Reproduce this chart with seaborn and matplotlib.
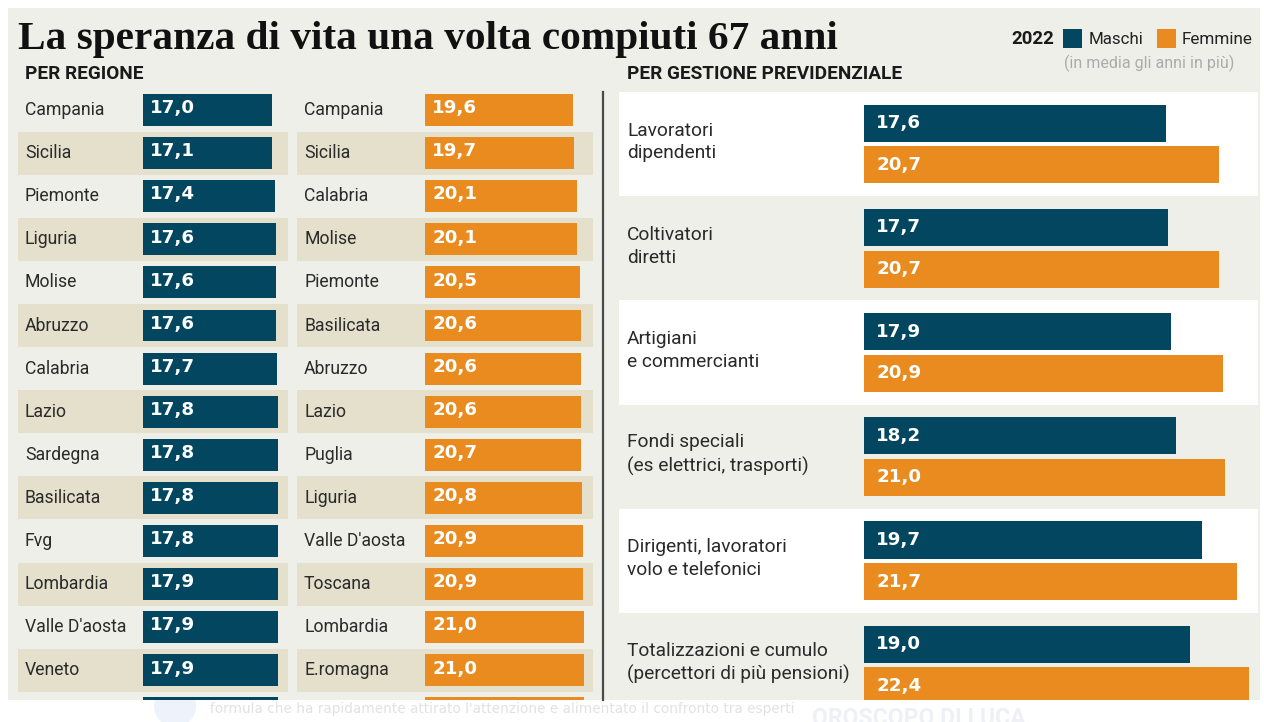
import matplotlib
matplotlib.use('Agg')
import matplotlib.pyplot as plt
from matplotlib.patches import Rectangle, Circle
from matplotlib.lines import Line2D
import matplotlib.transforms as mtransforms
import seaborn as sns
import pandas as pd

# ---------------- data ----------------
regioni_m = ["Campania", "Sicilia", "Piemonte", "Liguria", "Molise", "Abruzzo", "Calabria",
             "Lazio", "Sardegna", "Basilicata", "Fvg", "Lombardia", "Valle D'aosta", "Veneto", ""]
anni_m = [17.0, 17.1, 17.4, 17.6, 17.6, 17.6, 17.7, 17.8, 17.8, 17.8, 17.8, 17.9, 17.9, 17.9, 17.9]

regioni_f = ["Campania", "Sicilia", "Calabria", "Molise", "Piemonte", "Basilicata", "Abruzzo",
             "Lazio", "Puglia", "Liguria", "Valle D'aosta", "Toscana", "Lombardia", "E.romagna", ""]
anni_f = [19.6, 19.7, 20.1, 20.1, 20.5, 20.6, 20.6, 20.6, 20.7, 20.8, 20.9, 20.9, 21.0, 21.0, 21.0]

gestioni = ["Lavoratori\ndipendenti", "Coltivatori\ndiretti", "Artigiani\ne commercianti",
            "Fondi speciali\n(es elettrici, trasporti)", "Dirigenti, lavoratori\nvolo e telefonici",
            "Totalizzazioni e cumulo\n(percettori di più pensioni)"]
gest_m = [17.6, 17.7, 17.9, 18.2, 19.7, 19.0]
gest_f = [20.7, 20.7, 20.9, 21.0, 21.7, 22.4]

sessi = ["Maschi", "Femmine"]

# ---------------- style ----------------
DARK = '#02475f'
ORANGE = '#e98b1f'
PANEL = '#efefe9'
STRIPE = '#e4e0cc'
TEXT = '#2a2a2a'
SANS = 'Roboto'
VALFONT = 'DejaVu Sans'

W, H = 1264, 722
fig = plt.figure(figsize=(W / 100, H / 100), dpi=100, facecolor='white')
renderer = fig.canvas.get_renderer()


def fit(t, width):
    bb = t.get_window_extent(renderer)
    t.set_fontsize(t.get_fontsize() * width / bb.width)
    return t.get_fontsize()


def size_for(s, width, **kw):
    t = fig.text(0, 0, s, fontsize=12, **kw)
    fs = fit(t, width)
    t.remove()
    return fs


def px_axes(x0, y0, x1, y1, z=1):
    ax = fig.add_axes([x0 / W, 1 - y1 / H, (x1 - x0) / W, (y1 - y0) / H])
    ax.set_zorder(z)
    return ax


def fx(x):
    return x / W


def fy(y):
    return 1 - y / H


fmt = lambda v: f"{v:.1f}".replace('.', ',')

# panel background
fig.add_artist(Rectangle((fx(8), fy(700)), fx(1260) - fx(8), fy(8) - fy(700),
                         transform=fig.transFigure, facecolor=PANEL, edgecolor='none', zorder=-10))

# font sizes
fs_lab = size_for("Valle D'aosta", 102, family=SANS)
fs_val = size_for("17,0", 45, family=VALFONT, weight='bold')
fs_glab = size_for("Totalizzazioni e cumulo", 200, family=SANS)

# ---------------- left: per regione ----------------
SCALE = 7.58          # px per year
ROW = 43.1            # px per row
ROW0 = 110            # centre of first row
top_px = ROW0 - ROW / 2
bottom_row = (700 - ROW0) / ROW


def region_panel(x0, x1, x_zero, names, vals, color):
    ax = px_axes(x0, top_px, x1, 700)
    df = pd.DataFrame({"regione": [f"r{i}" for i in range(len(names))], "anni": vals})
    for i in range(len(names)):
        if i % 2 == 1:
            ax.axhspan(i - 0.5, i + 0.5, color=STRIPE, lw=0, zorder=0)
    sns.barplot(data=df, x="anni", y="regione", orient='h', color=color, saturation=1,
                width=0.74, ax=ax, zorder=2, linewidth=0)
    ax.set_xlim(-(x_zero - x0) / SCALE, (x1 - x_zero) / SCALE)
    ax.set_ylim(bottom_row, -0.5)
    ax.axis('off')
    tr = mtransforms.blended_transform_factory(ax.transAxes, ax.transData)
    for i, (n, v) in enumerate(zip(names, vals)):
        if i > bottom_row - 0.3:
            continue  # row cut off by the panel edge: labels not visible
        ax.text(7 / (x1 - x0), i, n, transform=tr, ha='left', va='center', fontsize=fs_lab,
                family=SANS, color=TEXT, clip_on=True)
        ax.text((7.5) / SCALE, i - 0.04, fmt(v), ha='left', va='center', fontsize=fs_val,
                family=VALFONT, weight='bold', color='white', clip_on=True, zorder=3)
    return ax


region_panel(18, 288, 142.7, regioni_m, anni_m, DARK)
region_panel(297, 593, 424.5, regioni_f, anni_f, ORANGE)

# ---------------- right: per gestione ----------------
GSCALE = 17.17
G0, GP = 144, 104.2
axr = px_axes(619, 92, 1258, 700)
for i in range(0, len(gestioni), 2):
    axr.axhspan(i - 0.5, i + 0.5, color='white', lw=0, zorder=0)
dfg = pd.DataFrame({
    "gestione": gestioni * 2,
    "sesso": [sessi[0]] * len(gestioni) + [sessi[1]] * len(gestioni),
    "anni": gest_m + gest_f,
})
sns.barplot(data=dfg, x="anni", y="gestione", hue="sesso", orient='h',
            palette={"Maschi": DARK, "Femmine": ORANGE}, saturation=1, width=0.8, gap=0.11,
            ax=axr, legend=False, zorder=2, linewidth=0)
axr.set_xlim(-(864 - 619) / GSCALE, (1258 - 864) / GSCALE)
axr.set_ylim((700 - G0) / GP, -0.5)
axr.axis('off')
trr = mtransforms.blended_transform_factory(axr.transAxes, axr.transData)
for i, g in enumerate(gestioni):
    axr.text(8 / 639, i - 0.02, g, transform=trr, ha='left', va='center', fontsize=fs_glab,
             family=SANS, color=TEXT, linespacing=1.35, clip_on=True)
    axr.text(12 / GSCALE, i - 0.2, fmt(gest_m[i]), ha='left', va='center', fontsize=fs_val,
             family=VALFONT, weight='bold', color='white', clip_on=True, zorder=3)
    axr.text(12 / GSCALE, i + 0.2, fmt(gest_f[i]), ha='left', va='center', fontsize=fs_val,
             family=VALFONT, weight='bold', color='white', clip_on=True, zorder=3)

# separator
fig.add_artist(Line2D([fx(603), fx(603)], [fy(92), fy(700)], color='#4a4a4a', lw=1.6, zorder=5))

# ---------------- titles & legend ----------------
t = fig.text(fx(18), fy(49), "La speranza di vita una volta compiuti 67 anni", family='Liberation Serif',
             weight='bold', color='#111111', va='baseline', ha='left', fontsize=28)
fit(t, 820)
t = fig.text(fx(25), fy(74), "PER REGIONE", family=SANS, weight='bold', color='#1a1a1a',
             va='center', ha='left', fontsize=12)
fit(t, 118)
t = fig.text(fx(627), fy(74), "PER GESTIONE PREVIDENZIALE", family=SANS, weight='bold',
             color='#1a1a1a', va='center', ha='left', fontsize=12)
fit(t, 275)

t = fig.text(fx(1011), fy(39), "2022", family=SANS, weight='bold', color='#1a1a1a',
             va='center', ha='left', fontsize=12)
fit(t, 43)
fig.add_artist(Rectangle((fx(1063), fy(48)), fx(19), 19 / H, transform=fig.transFigure,
                         facecolor=DARK, edgecolor='none'))
t = fig.text(fx(1089), fy(39), sessi[0], family=SANS, color='#222222', va='center', ha='left',
             fontsize=12)
fit(t, 55)
fig.add_artist(Rectangle((fx(1157), fy(48)), fx(19), 19 / H, transform=fig.transFigure,
                         facecolor=ORANGE, edgecolor='none'))
t = fig.text(fx(1182), fy(39), sessi[1], family=SANS, color='#222222', va='center', ha='left',
             fontsize=12)
fit(t, 71)
t = fig.text(fx(1064), fy(63), "(in media gli anni in più)", family=SANS, color='#ababab',
             va='center', ha='left', fontsize=11)
fit(t, 168)

# ---------------- faint page text below ----------------
axb = px_axes(0, 700, W, H, z=0)
axb.set_xlim(0, W)
axb.set_ylim(H, 700)
axb.axis('off')
axb.add_patch(Circle((175, 706), 21, facecolor='#eef2fa', edgecolor='none', clip_on=True))
t = axb.text(210, 709, "formula che ha rapidamente attirato l'attenzione e alimentato il confronto tra esperti",
             family='Liberation Sans Narrow', color='#e2e2e2', va='center', ha='left', fontsize=12)
fit(t, 580)
t = axb.text(812, 707, "OROSCOPO DI LUCA", family=SANS, weight='bold', color='#edf1f7',
             va='top', ha='left', fontsize=18)
fit(t, 213)

fig.savefig('out.png', dpi=100, facecolor='white')
